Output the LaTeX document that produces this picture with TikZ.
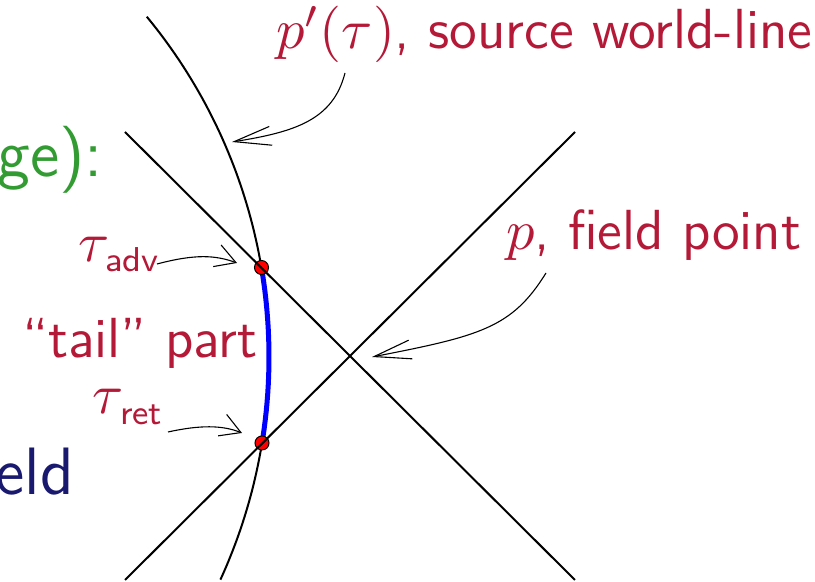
\RequirePackage{fix-cm}
\documentclass[tikz,border=0pt]{standalone}
\usetikzlibrary{arrows.meta}
\definecolor{alertred}{RGB}{180,25,55}
\definecolor{mygreen}{RGB}{50,155,50}
\definecolor{mynavy}{RGB}{25,25,112}
\begin{document}
\begin{tikzpicture}[x=0.2pt,y=-0.2pt,
  lbl/.style={inner sep=0pt, font=\fontsize{11.3}{13}\selectfont\sffamily, text=alertred},
  biglbl/.style={inner sep=0pt, font=\fontsize{13.4}{16}\selectfont\sffamily},
  mainline/.style={line width=0.4pt, black},
  pointer/.style={line width=0.22pt, black, -{Straight Barb[length=7.4pt,width=3.8pt]}},
  smallpointer/.style={line width=0.22pt, black, -{Straight Barb[length=4pt,width=4.6pt]}},
  evdot/.style={circle, fill=red, draw=black, line width=0.2pt, minimum size=2.8pt, inner sep=0pt}]
\useasboundingbox (0,0) rectangle (815,582);
% light-cone lines end points
\coordinate (L1a) at (125,132);
\coordinate (L1b) at (575,580);
\coordinate (L2a) at (125,580);
\coordinate (L2b) at (575,132);
% source world-line (arc of a circle)
\draw[mainline] plot[domain=-39.5:24.6, samples=80] ({-266+535*cos(\x)},{357+535*sin(\x)});
% tail part
\draw[blue, line width=1pt] plot[domain=-9.63:9.25, samples=40] ({-266+535*cos(\x)},{357+535*sin(\x)});
% events
\node[evdot] (tadv) at (261.5,267.5) {};
\node[evdot] (tret) at (262,443) {};
% light cone of the field point
\draw[mainline] (L1a) -- (L1b);
\draw[mainline] (L2a) -- (L2b);
% labels
\node[lbl, anchor=base west] (wl) at (275,49) {$p'(\tau)$, source world-line};
\node[lbl, anchor=base west] (fp) at (505,250) {$p$, field point};
\node[lbl, anchor=base west] (tail) at (21,358) {“tail” part};
\node[lbl, anchor=base west] (adv) at (77,262) {$\tau$\kern-0.8pt\raisebox{-2pt}{\fontsize{6.9}{8}\selectfont adv}};
\node[lbl, anchor=base west] (ret) at (92,414) {$\tau$\kern-0.8pt\raisebox{-2.2pt}{\fontsize{6.9}{8}\selectfont ret}};
\node[biglbl, text=mygreen, anchor=base east] (ge) at (104,177) {ge):};
\node[biglbl, text=mynavy, anchor=base east] (eld) at (75,495) {eld};
% pointer arrows
\coordinate (wlS) at (345,73);
\coordinate (wlT) at (232,142);
\coordinate (fpS) at (546,273);
\coordinate (fpT) at (372,357);
\coordinate (advS) at (157,264);
\coordinate (advT) at (237,263);
\coordinate (retS) at (168,432);
\coordinate (retT) at (242,433);
\draw[pointer] (wlS) .. controls (333,120) and (295,132) .. (wlT);
\draw[pointer] (fpS) .. controls (512,328) and (480,336) .. (fpT);
\draw[smallpointer] (advS) .. controls (195,254) and (215,255) .. (advT);
\draw[smallpointer] (retS) .. controls (200,425) and (222,425) .. (retT);
\end{tikzpicture}
\end{document}
